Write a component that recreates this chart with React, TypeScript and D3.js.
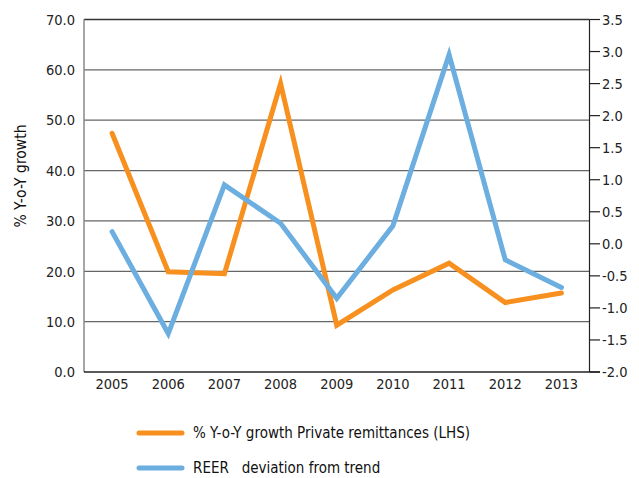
import React from "react";
import * as d3 from "d3";

const years = ["2005", "2006", "2007", "2008", "2009", "2010", "2011", "2012", "2013"];
const remittances = [47.4, 19.9, 19.5, 57.3, 9.3, 16.3, 21.6, 13.8, 15.7];
const reer = [0.19, -1.4, 0.92, 0.32, -0.85, 0.28, 2.95, -0.25, -0.68];
const leftTicks = [0, 10, 20, 30, 40, 50, 60, 70];
const rightTicks = [-2, -1.5, -1, -0.5, 0, 0.5, 1, 1.5, 2, 2.5, 3, 3.5];
const seriesNames = ["% Y-o-Y growth Private remittances (LHS)", "REER   deviation from trend"];
const yTitle = "% Y-o-Y growth";

const W = 639, H = 478;
const L = 84, R = 589.5, T = 19.5, B = 372;
const FONT = "'DejaVu Sans Condensed', 'DejaVu Sans', sans-serif";
const ORANGE = "#F7901E";
const BLUE = "#6CAEE0";

export default function App() {
  const x = d3.scaleBand().domain(years).range([L, R]);
  const yL = d3.scaleLinear().domain([0, 70]).range([B, T]);
  const yR = d3.scaleLinear().domain([-2, 3.5]).range([B, T]);
  const cx = (d: string) => (x(d) as number) + x.bandwidth() / 2;
  const lineL = d3.line<number>().x((_, i) => cx(years[i])).y((v) => yL(v));
  const lineR = d3.line<number>().x((_, i) => cx(years[i])).y((v) => yR(v));

  return (
    <svg width={W} height={H} style={{ position: "absolute", left: 0, top: 0 }} fontFamily={FONT}>
      <rect width={W} height={H} fill="#fff" />
      {leftTicks.filter((t) => t > 0).map((t) => (
        <line key={t} x1={L} x2={R} y1={yL(t)} y2={yL(t)} stroke={t === 70 ? "#333" : "#666"} strokeWidth={1.3} />
      ))}
      <line x1={L} x2={L} y1={T} y2={B} stroke="#888" strokeWidth={1.5} />
      <line x1={R} x2={R} y1={T} y2={B} stroke="#222" strokeWidth={1.2} />
      <line x1={L} x2={R + 10.5} y1={B} y2={B} stroke="#222" strokeWidth={1.5} />
      {rightTicks.map((t) => (
        <g key={t}>
          <line x1={R} x2={R + 10.5} y1={yR(t)} y2={yR(t)} stroke="#222" strokeWidth={1.2} />
          <text x={602} y={yR(t)} dy="0.36em" fontSize={14.5} fill="#222">{t.toFixed(1)}</text>
        </g>
      ))}
      {leftTicks.map((t) => (
        <text key={t} x={75} y={yL(t)} dy="0.36em" fontSize={14.5} fill="#222" textAnchor="end">{t.toFixed(1)}</text>
      ))}
      {years.map((y) => (
        <text key={y} x={cx(y)} y={383.5} dy="0.36em" fontSize={14.5} fill="#222" textAnchor="middle">{y}</text>
      ))}
      <text transform={`translate(20,${176}) rotate(-90)`} textAnchor="middle" dy="0.36em" fontSize={15.5} fill="#111">{yTitle}</text>
      <path d={lineL(remittances) || ""} fill="none" stroke={ORANGE} strokeWidth={5} strokeLinecap="round" strokeLinejoin="miter" />
      <path d={lineR(reer) || ""} fill="none" stroke={BLUE} strokeWidth={5} strokeLinecap="round" strokeLinejoin="miter" />
      {seriesNames.map((n, i) => (
        <g key={n}>
          <line x1={139} x2={182} y1={433 + i * 35} y2={433 + i * 35} stroke={i === 0 ? ORANGE : BLUE} strokeWidth={5} strokeLinecap="round" />
          <text x={193} y={433 + i * 35} dy="0.36em" fontSize={15} fill="#111" style={{ whiteSpace: "pre" }}>{n}</text>
        </g>
      ))}
    </svg>
  );
}
